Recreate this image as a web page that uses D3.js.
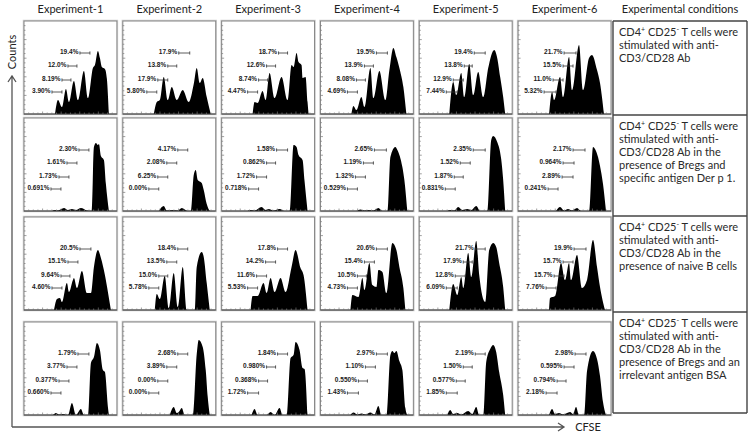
<!DOCTYPE html>
<html><head><meta charset="utf-8">
<script src="https://cdn.jsdelivr.net/npm/d3@7"></script>
<style>body{margin:0;background:#fff}svg{display:block}</style>
</head><body>
<svg id="c" width="750" height="436"></svg>
<script>
// ---------------- DATA ----------------
const experiments = ["Experiment-1","Experiment-2","Experiment-3","Experiment-4","Experiment-5","Experiment-6"];
const conditionsHeader = "Experimental conditions";
const conditions = [
  ["CD4^+ CD25^- T cells were","stimulated with anti-","CD3/CD28 Ab"],
  ["CD4^+ CD25^- T cells were","stimulated with anti-","CD3/CD28 Ab in the","presence of Bregs and","specific antigen Der p 1."],
  ["CD4^+ CD25^- T cells were","stimulated with anti-","CD3/CD28 Ab in the","presence of naive B cells"],
  ["CD4^+ CD25^- T cells were","stimulated with anti-","CD3/CD28 Ab in the","presence of Bregs and an","irrelevant antigen BSA"]
];
const xAxisLabel = "CFSE";
const yAxisLabel = "Counts";

// histogram outlines: [CFSE channel, counts]
const histRow1 = [
  [[341,0],[374,28],[418,14],[462,50],[495,24],[550,66],[594,28],[660,86],[704,32],[759,92],[781,98],[814,126],[836,112],[858,94],[891,90],[913,70],[935,0]],
  [[341,0],[374,24],[407,28],[451,74],[495,28],[539,54],[594,28],[660,48],[726,24],[781,60],[814,92],[847,62],[880,72],[924,34],[968,0]],
  [[341,0],[363,24],[396,22],[451,46],[484,28],[528,82],[583,32],[660,74],[726,28],[770,98],[792,94],[825,122],[847,104],[880,98],[891,72],[924,74],[946,24],[957,0]],
  [[341,0],[363,16],[396,8],[451,34],[484,14],[550,92],[583,32],[649,86],[715,28],[759,88],[803,132],[836,114],[880,84],[913,54],[946,0]],
  [[330,0],[374,64],[407,38],[462,82],[495,34],[550,100],[594,38],[649,84],[704,34],[759,92],[825,128],[858,112],[891,74],[924,34],[946,0]],
  [[341,0],[374,44],[396,28],[462,74],[495,34],[561,114],[594,48],[671,138],[715,48],[781,112],[814,118],[869,88],[902,62],[946,0]]
];
const histRow2 = [
  [[308,0],[341,2],[374,1],[440,6],[484,2],[528,4],[572,2],[627,6],[693,1],[748,0],[770,128],[792,136],[814,132],[825,134],[847,110],[880,102],[902,54],[935,0]],
  [[396,0],[451,10],[484,1],[550,2],[605,1],[649,6],[715,0],[748,0],[781,72],[803,82],[825,62],[869,56],[891,42],[924,14],[957,0]],
  [[286,0],[319,2],[363,1],[440,8],[484,2],[517,4],[572,1],[638,4],[693,0],[748,0],[792,132],[825,128],[847,112],[891,102],[913,60],[946,0]],
  [[396,0],[440,3],[484,1],[528,2],[583,1],[638,6],[682,0],[737,0],[770,108],[825,128],[847,122],[902,88],[924,62],[957,0]],
  [[308,0],[341,2],[385,1],[429,8],[473,2],[528,4],[572,2],[627,10],[671,0],[748,0],[792,142],[814,150],[858,138],[902,104],[924,62],[946,0]],
  [[418,0],[462,8],[506,1],[550,4],[594,1],[649,6],[693,0],[781,0],[825,128],[847,124],[880,108],[902,90],[935,54],[968,0]]
];
const histRow3 = [
  [[330,0],[363,22],[396,24],[418,16],[473,54],[495,36],[539,60],[550,64],[583,44],[638,78],[693,34],[737,34],[770,86],[814,120],[847,104],[891,70],[924,36],[957,0]],
  [[352,0],[374,32],[407,22],[462,68],[506,4],[561,74],[605,6],[660,86],[704,0],[792,0],[814,86],[869,116],[891,106],[924,54],[957,0]],
  [[319,0],[341,28],[396,28],[462,54],[495,34],[539,64],[583,36],[649,64],[704,36],[770,86],[814,120],[869,84],[902,70],[946,0]],
  [[330,0],[352,30],[418,26],[462,64],[484,40],[539,94],[572,50],[616,46],[638,80],[682,76],[726,34],[792,134],[836,120],[869,86],[913,44],[935,0]],
  [[330,0],[374,52],[418,30],[462,66],[484,44],[539,114],[572,66],[627,138],[660,70],[726,16],[770,120],[814,134],[847,126],[880,94],[924,46],[946,0]],
  [[341,0],[352,24],[407,28],[473,94],[517,60],[561,94],[583,60],[649,110],[704,44],[759,60],[825,140],[869,86],[902,46],[957,0]]
];
const histRow4 = [
  [[319,0],[352,4],[385,1],[429,2],[484,0],[528,24],[572,0],[627,12],[660,0],[704,0],[737,104],[770,116],[803,144],[836,130],[869,90],[891,86],[924,16],[935,0]],
  [[517,0],[561,16],[594,4],[616,6],[649,14],[682,0],[770,0],[814,122],[836,150],[880,136],[913,90],[935,36],[957,0]],
  [[330,0],[363,12],[396,0],[495,0],[539,6],[583,0],[638,14],[671,0],[715,0],[759,114],[792,120],[814,146],[858,130],[891,94],[913,92],[946,0]],
  [[330,0],[363,5],[407,1],[451,3],[495,1],[550,5],[594,1],[638,18],[671,0],[726,0],[770,120],[792,128],[814,124],[836,128],[869,108],[902,90],[935,14],[957,0]],
  [[308,0],[341,10],[374,2],[418,4],[462,1],[539,8],[583,2],[627,16],[660,0],[704,0],[737,106],[781,132],[814,140],[847,126],[880,86],[924,40],[946,0]],
  [[341,0],[374,12],[407,2],[451,4],[495,1],[572,6],[605,2],[638,16],[671,0],[726,0],[759,88],[825,128],[869,112],[902,78],[935,26],[968,0]]
];

// division gates: [low, high] CFSE channel (generation 4,3,2,1 from top)
const gateRow1 = [
  [[616,726],[484,583],[418,517],[308,418]],
  [[616,737],[495,594],[385,495],[264,374]],
  [[627,726],[495,594],[407,506],[286,396]],
  [[616,737],[484,583],[396,495],[297,407]],
  [[605,726],[495,583],[374,484],[297,418]],
  [[506,638],[495,605],[385,495],[286,418]]
];
const gateRow2 = [
  [[605,715],[473,583],[385,495],[297,407]],
  [[605,715],[484,594],[385,495],[286,396]],
  [[605,726],[495,594],[385,495],[297,407]],
  [[594,726],[473,583],[385,495],[297,407]],
  [[594,726],[451,561],[385,484],[286,396]],
  [[605,737],[495,616],[484,605],[330,440]]
];
const gateRow3 = [
  [[616,737],[484,594],[407,506],[308,418]],
  [[605,715],[484,594],[396,495],[286,396]],
  [[616,726],[484,594],[385,495],[286,396]],
  [[616,737],[484,594],[407,506],[297,407]],
  [[616,726],[484,583],[396,506],[297,418]],
  [[616,748],[495,605],[396,506],[308,418]]
];
const gateRow4 = [
  [[594,715],[473,583],[385,495],[297,407]],
  [[605,715],[484,594],[385,495],[286,396]],
  [[616,726],[495,594],[407,506],[286,407]],
  [[616,737],[495,605],[418,517],[297,418]],
  [[616,726],[484,583],[407,506],[297,418]],
  [[627,748],[506,616],[429,528],[308,429]]
];
const gateLevels = [122, 96, 68, 44]; // counts level at which each gate marker sits

const pctRow1 = [
  ["19.4%","12.0%","8.19%","3.90%"],["17.9%","13.8%","17.9%","5.80%"],["18.7%","12.6%","8.74%","4.47%"],
  ["19.5%","13.9%","8.08%","4.69%"],["19.4%","13.8%","12.9%","7.44%"],["21.7%","15.5%","11.0%","5.32%"]
];
const pctRow2 = [
  ["2.30%","1.61%","1.73%","0.691%"],["4.17%","2.08%","6.25%","0.00%"],["1.58%","0.862%","1.72%","0.718%"],
  ["2.65%","1.19%","1.32%","0.529%"],["2.35%","1.52%","1.87%","0.831%"],["2.17%","0.964%","2.89%","0.241%"]
];
const pctRow3 = [
  ["20.5%","15.1%","9.64%","4.60%"],["18.4%","13.5%","15.0%","5.78%"],["17.8%","14.2%","11.6%","5.53%"],
  ["20.6%","15.4%","10.5%","4.73%"],["21.7%","17.9%","12.8%","6.09%"],["19.9%","15.7%","15.7%","7.76%"]
];
const pctRow4 = [
  ["1.79%","3.77%","0.377%","0.660%"],["2.68%","3.89%","0.00%","0.00%"],["1.84%","0.980%","0.368%","1.72%"],
  ["2.97%","1.10%","0.550%","1.43%"],["2.19%","1.50%","0.577%","1.85%"],["2.98%","0.595%","0.794%","2.18%"]
];

const rows = [
  {hist: histRow1, gates: gateRow1, pct: pctRow1},
  {hist: histRow2, gates: gateRow2, pct: pctRow2},
  {hist: histRow3, gates: gateRow3, pct: pctRow3},
  {hist: histRow4, gates: gateRow4, pct: pctRow4}
];

// ---------------- LAYOUT ----------------
const svg = d3.select("#c");
const FONT = "Lato, 'Open Sans', sans-serif";
const colBand = d3.scaleBand().domain(d3.range(6)).range([24, 611]).paddingInner(0.06);
const rowTop = [21, 118, 217, 322];
const panelH = 93;
const bw = colBand.bandwidth();
const x = d3.scaleLinear().domain([0, 1023]).range([0, bw]);
const y = d3.scaleLinear().domain([0, 186]).range([panelH, 0]);
const area = d3.area().x(d => x(d[0])).y0(panelH).y1(d => y(d[1])).curve(d3.curveMonotoneX);

svg.append("rect").attr("width", 750).attr("height", 436).attr("fill", "#fff");

// column headers
svg.selectAll("text.hdr").data(experiments).join("text")
  .attr("class", "hdr")
  .attr("x", (d, i) => colBand(i) + bw / 2).attr("y", 13)
  .attr("text-anchor", "middle").attr("font-family", FONT).attr("font-size", 11).attr("fill", "#222")
  .text(d => d);
svg.append("text").attr("x", 680).attr("y", 13).attr("text-anchor", "middle")
  .attr("font-family", FONT).attr("font-size", 11).attr("fill", "#222").text(conditionsHeader);

const tickFrac = d3.range(1, 20).map(i => i / 20);

rows.forEach((row, r) => {
  row.hist.forEach((h, c) => {
    const g = svg.append("g").attr("transform", `translate(${colBand(c)},${rowTop[r]})`);
    g.append("rect").attr("x", -0.5).attr("y", -0.5).attr("width", bw + 1).attr("height", panelH + 1)
      .attr("fill", "none").attr("stroke", "#d0d0d0").attr("stroke-width", 1.5);
    g.append("rect").attr("width", bw).attr("height", panelH)
      .attr("fill", "#fff").attr("stroke", "#858585").attr("stroke-width", 1);
    // left ticks
    g.selectAll("line.lt").data(tickFrac).join("line")
      .attr("x1", 0).attr("x2", (d, i) => (i % 4 === 3 ? 2.5 : 1.5))
      .attr("y1", d => d * panelH).attr("y2", d => d * panelH)
      .attr("stroke", "#777").attr("stroke-width", 0.7);
    // histogram
    g.append("path").datum(h).attr("d", area).attr("fill", "#000");
    // bottom axis
    g.append("line").attr("x1", 0).attr("x2", bw).attr("y1", panelH).attr("y2", panelH)
      .attr("stroke", "#444").attr("stroke-width", 1.2);
    g.selectAll("line.bt").data(tickFrac).join("line")
      .attr("x1", d => d * bw).attr("x2", d => d * bw)
      .attr("y1", panelH).attr("y2", (d, i) => panelH - (i % 4 === 3 ? 2.5 : 1.5))
      .attr("stroke", "#777").attr("stroke-width", 0.7);
    // gates
    row.gates[c].forEach((gt, i) => {
      const gy = y(gateLevels[i]);
      const x0 = x(gt[0]), x1 = x(gt[1]);
      g.append("path")
        .attr("d", `M${x0},${gy - 1.6}V${gy + 1.6}M${x0},${gy}H${x1}M${x1},${gy - 1.6}V${gy + 1.6}`)
        .attr("stroke", "#333").attr("stroke-width", 0.8).attr("fill", "none");
      g.append("text").attr("x", x0 - 1.5).attr("y", gy + 0.8)
        .attr("text-anchor", "end").attr("font-family", "'Liberation Sans', Arial, sans-serif")
        .attr("font-size", 6.5).attr("font-weight", "bold").attr("fill", "#1a1a1a")
        .text(row.pct[c][i]);
    });
  });
});

// conditions table
const tblX0 = 613, tblX1 = 747;
const tblY = [21, 115, 216, 312, 413];
tblY.forEach(v => svg.append("line").attr("x1", tblX0).attr("x2", tblX1).attr("y1", v).attr("y2", v)
  .attr("stroke", "#444").attr("stroke-width", 1.4));
[tblX0, tblX1].forEach(v => svg.append("line").attr("x1", v).attr("x2", v).attr("y1", tblY[0]).attr("y2", tblY[4])
  .attr("stroke", "#444").attr("stroke-width", 1.4));

conditions.forEach((lines, r) => {
  lines.forEach((ln, k) => {
    const t = svg.append("text").attr("x", 619).attr("y", tblY[r] + 14.5 + k * 13)
      .attr("font-family", FONT).attr("font-size", 11).attr("fill", "#2a2a2a");
    const parts = ln.split(/(\^[+-])/);
    parts.forEach(p => {
      if (!p) return;
      if (p[0] === "^") {
        t.append("tspan").attr("baseline-shift", "super").attr("font-size", 7).text(p[1]);
      } else {
        t.append("tspan").text(p);
      }
    });
  });
});

// axis arrows
svg.append("path").attr("d", "M12,427V76M8,82L12,76L16,82")
  .attr("stroke", "#555").attr("stroke-width", 1.3).attr("fill", "none");
svg.append("path").attr("d", "M12,427H564M558,423L564,427L558,431")
  .attr("stroke", "#555").attr("stroke-width", 1.3).attr("fill", "none");
svg.append("text").attr("transform", "translate(16,52) rotate(-90)").attr("text-anchor", "middle")
  .attr("font-family", FONT).attr("font-size", 11).attr("fill", "#222").text(yAxisLabel);
svg.append("text").attr("x", 588).attr("y", 431).attr("text-anchor", "middle")
  .attr("font-family", FONT).attr("font-size", 11).attr("fill", "#222").text(xAxisLabel);
</script>
</body></html>
